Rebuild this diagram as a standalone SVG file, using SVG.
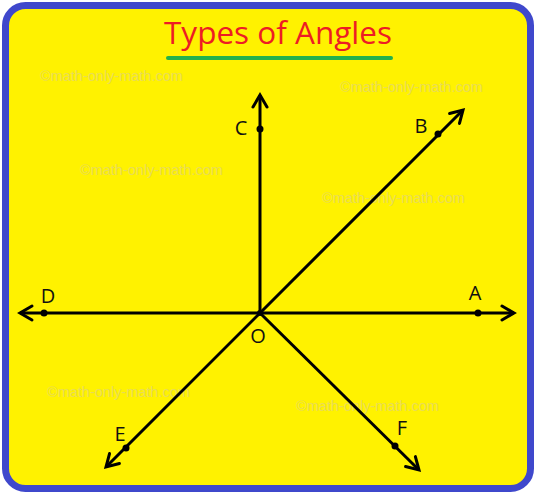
<svg xmlns="http://www.w3.org/2000/svg" width="536" height="494" viewBox="0 0 536 494">
<style>
.wm{font-family:"Liberation Sans",Arial,sans-serif;font-size:14.5px;fill:#e9dc55}
.lbl{font-family:"Open Sans","Liberation Sans",sans-serif;font-size:20px;fill:#111}
.ray{stroke:#000;stroke-width:3;fill:none;marker-end:url(#arr)}
.pt{fill:#000}
</style>
<defs>
<marker id="arr" markerUnits="userSpaceOnUse" markerWidth="20" markerHeight="20" refX="0" refY="0" viewBox="-14 -10 16 20" orient="auto" overflow="visible">
<path d="M-12,-7 L0,0 L-12,7" fill="none" stroke="#000" stroke-width="3" stroke-linecap="round" stroke-linejoin="miter"/>
</marker>
</defs>
<rect x="5.5" y="5.5" width="525" height="483" rx="20" ry="20" fill="#fff200" stroke="#3f48cc" stroke-width="7"/>
<g id="title">
<text x="278" y="44" text-anchor="middle" font-family="'Open Sans','Liberation Sans',sans-serif" font-size="31" textLength="228" lengthAdjust="spacingAndGlyphs" fill="#ed1c24">Types of Angles</text>
<line x1="168" y1="58" x2="391" y2="58" stroke="#22b14c" stroke-width="4" stroke-linecap="round"/>
</g>
<g id="watermarks">
<text class="wm" x="40" y="81">©math-only-math.com</text>
<text class="wm" x="340" y="92">©math-only-math.com</text>
<text class="wm" x="80" y="175">©math-only-math.com</text>
<text class="wm" x="322" y="203">©math-only-math.com</text>
<text class="wm" x="47" y="397">©math-only-math.com</text>
<text class="wm" x="296" y="411">©math-only-math.com</text>
</g>
<g id="connectors">
<line class="ray" x1="260" y1="313" x2="514" y2="313"/>
<line class="ray" x1="260" y1="313" x2="20" y2="313"/>
<line class="ray" x1="260" y1="313" x2="260" y2="95"/>
<line class="ray" x1="260" y1="313" x2="463" y2="110"/>
<line class="ray" x1="260" y1="313" x2="106" y2="467"/>
<line class="ray" x1="260" y1="313" x2="419" y2="470"/>
</g>
<g id="node-O"><circle class="pt" cx="260" cy="313" r="3"/><text class="lbl" x="258" y="343" text-anchor="middle">O</text></g>
<g id="node-A"><circle class="pt" cx="478" cy="313" r="3.5"/><text class="lbl" x="475" y="300" text-anchor="middle">A</text></g>
<g id="node-B"><circle class="pt" cx="438" cy="134" r="3.5"/><text class="lbl" x="421" y="133" text-anchor="middle">B</text></g>
<g id="node-C"><circle class="pt" cx="260" cy="129" r="3.5"/><text class="lbl" x="241" y="135" text-anchor="middle">C</text></g>
<g id="node-D"><circle class="pt" cx="44" cy="313" r="3.5"/><text class="lbl" x="48" y="303" text-anchor="middle">D</text></g>
<g id="node-E"><circle class="pt" cx="126" cy="448" r="3.5"/><text class="lbl" x="120" y="441" text-anchor="middle">E</text></g>
<g id="node-F"><circle class="pt" cx="395" cy="446" r="3.5"/><text class="lbl" x="402" y="435" text-anchor="middle">F</text></g>
</svg>
